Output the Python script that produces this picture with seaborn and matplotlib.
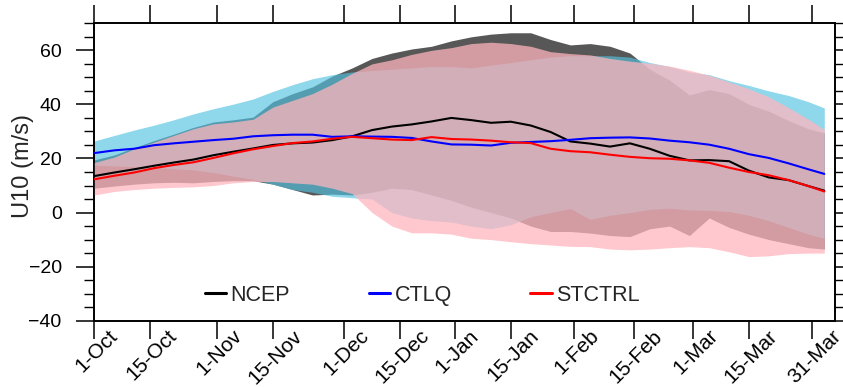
import matplotlib
matplotlib.use("Agg")
import matplotlib.pyplot as plt
import matplotlib.transforms as mtransforms
from matplotlib.lines import Line2D
from matplotlib.ticker import MultipleLocator
import pandas as pd
import seaborn as sns

# Days since 1 October
days = [0, 5, 10, 15, 20, 25, 30, 35, 40, 45, 50, 55, 60, 65, 70, 75, 80, 85, 90,
        95, 100, 105, 110, 115, 120, 125, 130, 135, 140, 145, 150, 155, 160, 165,
        170, 175, 180, 184]

# Mean 10 hPa zonal wind (m/s)
ncep_mean = [13.5, 14.8, 16.0, 17.3, 18.5, 19.6, 21.2, 22.5, 23.7, 25.0, 25.6, 25.9,
             26.8, 28.2, 30.5, 31.8, 32.6, 33.7, 35.0, 34.2, 33.2, 33.6, 32.2, 29.8,
             26.3, 25.5, 24.4, 25.6, 23.6, 21.0, 19.3, 19.4, 19.0, 15.5, 13.0, 12.0,
             9.8, 8.1]
ctlq_mean = [22.0, 23.0, 23.6, 24.9, 25.6, 26.2, 26.8, 27.3, 28.2, 28.6, 28.8, 28.8,
             28.0, 28.2, 28.1, 28.0, 27.6, 26.3, 25.2, 25.1, 24.8, 25.8, 26.1, 26.4,
             26.9, 27.5, 27.7, 27.8, 27.4, 26.6, 26.0, 25.1, 23.6, 21.6, 20.2, 18.2,
             16.0, 14.3]
stctrl_mean = [12.3, 13.6, 14.8, 16.4, 17.6, 18.6, 20.2, 21.9, 23.4, 24.6, 25.7, 26.3,
               27.3, 28.0, 27.5, 27.0, 26.8, 27.9, 27.2, 27.0, 26.6, 26.0, 25.7, 23.6,
               22.7, 22.3, 21.4, 20.6, 20.1, 19.9, 19.3, 18.4, 16.6, 15.0, 13.8, 12.0,
               9.8, 7.8]

# Spread envelopes (upper / lower bounds)
ncep_hi = [19.5, 21.3, 24.0, 26.6, 29.0, 31.5, 33.5, 34.3, 35.3, 41.0, 44.0, 46.5,
           50.5, 53.5, 57.0, 59.0, 60.5, 61.5, 63.5, 65.0, 66.0, 66.5, 66.5, 64.0,
           62.0, 62.5, 61.5, 59.0, 53.0, 49.0, 43.5, 45.5, 44.0, 40.0, 37.5, 34.0,
           31.0, 29.5]
ncep_lo = [9.0, 9.8, 10.5, 11.0, 11.2, 11.0, 11.5, 11.8, 11.8, 10.5, 8.5, 6.5,
           6.8, 6.5, 7.5, 9.0, 8.5, 6.5, 4.5, 2.0, 0.0, -2.0, -5.0, -7.0,
           -7.0, -7.6, -8.5, -8.9, -6.0, -5.0, -8.5, -2.0, -5.5, -8.0, -10.0, -11.5,
           -13.0, -13.5]
ctlq_hi = [26.5, 28.5, 30.5, 32.3, 34.3, 36.5, 38.4, 40.1, 42.0, 44.8, 47.3, 49.5,
           51.0, 52.0, 52.5, 53.0, 53.5, 54.0, 54.0, 53.5, 54.5, 55.5, 56.5, 57.5,
           58.0, 58.0, 58.0, 57.5, 55.5, 54.0, 52.0, 51.0, 48.8, 47.0, 45.0, 43.3,
           41.0, 38.7]
ctlq_lo = [17.5, 17.3, 17.0, 16.6, 16.2, 15.8, 14.8, 13.5, 12.3, 10.5, 8.5, 7.5,
           6.0, 5.5, 5.0, 0.0, -2.0, -3.0, -3.5, -5.0, -6.0, -4.5, -1.5, 0.0,
           1.5, -2.5, -1.0, 0.0, 1.2, 1.6, 1.0, 0.8, 0.4, -1.0, -3.0, -5.5,
           -8.0, -9.5]
stctrl_hi = [18.5, 20.5, 23.5, 26.0, 28.5, 31.0, 32.8, 33.5, 34.5, 39.0, 41.5, 44.0,
             47.5, 51.5, 55.0, 56.5, 58.5, 60.0, 61.0, 62.5, 63.0, 62.5, 61.5, 59.5,
             58.8, 58.3, 57.0, 56.0, 55.2, 54.2, 52.6, 50.8, 48.3, 45.8, 42.8, 38.8,
             34.5, 30.8]
stctrl_lo = [6.5, 7.8, 8.5, 9.0, 9.3, 9.5, 10.0, 11.0, 11.5, 11.5, 11.0, 10.5,
             9.0, 7.0, 0.0, -5.0, -7.5, -7.5, -8.0, -9.5, -10.0, -10.8, -11.5, -12.0,
             -12.5, -12.6, -13.5, -13.8, -13.5, -13.0, -12.6, -13.0, -14.5, -16.3, -16.0, -15.2,
             -15.0, -15.0]

runs = ["NCEP", "CTLQ", "STCTRL"]
line_colors = {"NCEP": "#000000", "CTLQ": "#0000ff", "STCTRL": "#ff0000"}

tick_days = [0, 14, 31, 45, 63, 77, 91, 105, 121, 136, 151, 165, 181]
tick_labels = ["1-Oct", "15-Oct", "1-Nov", "15-Nov", "1-Dec", "15-Dec", "1-Jan",
               "15-Jan", "1-Feb", "15-Feb", "1-Mar", "15-Mar", "31-Mar"]

sns.set_style("ticks")
plt.rcParams["font.family"] = ["Liberation Sans", "DejaVu Sans"]

fig = plt.figure(figsize=(8.43, 3.87), dpi=100)
ax = fig.add_axes([0.1119, 0.1713, 0.8786, 0.7685])

# Shaded spread bands, layered NCEP -> CTLQ -> STCTRL
ax.fill_between(days, ncep_lo, ncep_hi, color="black", alpha=0.66, lw=0, zorder=1)
ax.fill_between(days, ctlq_lo, ctlq_hi, color=(83 / 255, 195 / 255, 226 / 255),
                alpha=0.65, lw=0, zorder=2)
ax.fill_between(days, stctrl_lo, stctrl_hi, color=(1.0, 181 / 255, 189 / 255),
                alpha=0.74, lw=0, zorder=3)

n = len(days)
df = pd.DataFrame({
    "day": days * 3,
    "u10": ncep_mean + ctlq_mean + stctrl_mean,
    "run": ["NCEP"] * n + ["CTLQ"] * n + ["STCTRL"] * n,
})
sns.lineplot(data=df, x="day", y="u10", hue="run", hue_order=runs,
             palette=line_colors, estimator=None, linewidth=1.5, ax=ax,
             legend=False, zorder=5)

handles = [Line2D([], [], color=line_colors[r], lw=2.2) for r in runs]
ax.legend(handles, runs, ncol=3, frameon=False, loc="center left",
          bbox_to_anchor=(0.149, 0.086), fontsize=15.5, handlelength=1.0,
          handletextpad=0.2, columnspacing=3.65, borderaxespad=0, borderpad=0)

ax.set_xlim(0, 186.7)
ax.set_ylim(-40, 70)
ax.set_xticks(tick_days)
ax.set_xticklabels(tick_labels, rotation=45, ha="center", va="top", fontsize=15)
ax.set_yticks([-40, -20, 0, 20, 40, 60])
ax.yaxis.set_minor_locator(MultipleLocator(5))
ax.set_xlabel("")
ax.set_ylabel("U10 (m/s)", fontsize=17)
ax.yaxis.set_label_coords(-0.0815, 0.52)

for side in ["left", "right", "top", "bottom"]:
    ax.spines[side].set_visible(True)
    ax.spines[side].set_linewidth(1.4)
    ax.spines[side].set_color("black")

ax.tick_params(axis="both", which="major", direction="out", length=13, width=1.1,
               colors="black", top=True, right=True)
ax.tick_params(axis="y", which="major", labelsize=14, pad=10.5)
ax.tick_params(axis="y", which="minor", direction="out", length=7, width=1.0,
               colors="black", left=True, right=True)
ax.tick_params(axis="x", which="major", pad=-9.0)

shift = mtransforms.ScaledTranslation(2.0 / 100, 0, fig.dpi_scale_trans)
for lbl in ax.get_xticklabels():
    lbl.set_transform(lbl.get_transform() + shift)

fig.savefig("out.png", dpi=100)
